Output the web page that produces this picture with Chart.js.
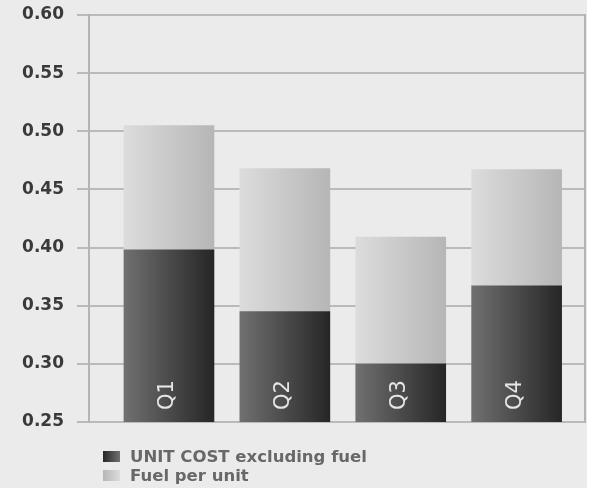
<!DOCTYPE html>
<html>
<head>
<meta charset="utf-8">
<script src="https://cdn.jsdelivr.net/npm/chart.js@4.4.1/dist/chart.umd.min.js"></script>
<style>
  html, body { margin: 0; padding: 0; background: #ffffff; }
  #wrap { width: 593px; height: 488px; }
</style>
</head>
<body>
<div id="wrap"><canvas id="c" width="593" height="488"></canvas></div>
<script>
// Quarterly unit cost, split into cost excluding fuel and fuel per unit
const quarters = ['Q1', 'Q2', 'Q3', 'Q4'];
const unitCostExFuel = [0.398, 0.345, 0.300, 0.367];
const fuelPerUnit = [0.107, 0.123, 0.109, 0.100];
const yTickValues = [0.25, 0.30, 0.35, 0.40, 0.45, 0.50, 0.55, 0.60];
const seriesNames = ['UNIT COST excluding fuel', 'Fuel per unit'];

const BAR_W = 90;
const darkStops = ['#707070', '#262626'];
const lightStops = ['#dcdcdc', '#b6b6b6'];

function barGradient(stops) {
  return function (ctx) {
    const chart = ctx.chart;
    const xs = chart.scales && chart.scales.x;
    if (!xs || ctx.type !== 'data') return stops[1];
    const cx = xs.getPixelForValue(ctx.dataIndex);
    if (!Number.isFinite(cx)) return stops[1];
    const g = chart.ctx.createLinearGradient(cx - BAR_W / 2, 0, cx + BAR_W / 2, 0);
    g.addColorStop(0, stops[0]);
    g.addColorStop(1, stops[1]);
    return g;
  };
}

const toPoints = arr => arr.map((v, i) => ({ x: i, y: v }));

// Page background, right frame line, legend and in-bar quarter labels
const decorations = {
  id: 'decorations',
  beforeDraw(chart) {
    const c = chart.ctx;
    c.save();
    c.fillStyle = '#ebebeb';
    c.fillRect(0, 0, 587, chart.height);
    c.restore();
  },
  afterDatasetsDraw(chart) {
    const c = chart.ctx;
    const area = chart.chartArea;
    const xs = chart.scales.x;
    const ys = chart.scales.y;
    c.save();
    // right frame line
    c.strokeStyle = '#b4b4b4';
    c.lineWidth = 2;
    c.beginPath();
    c.moveTo(area.right, area.top - 1);
    c.lineTo(area.right, area.bottom + 1);
    c.stroke();

    // quarter names written upward inside the dark segments
    c.fillStyle = '#e6e6e6';
    c.font = '21px "DejaVu Sans"';
    c.textAlign = 'left';
    c.textBaseline = 'middle';
    quarters.forEach((q, i) => {
      const cx = xs.getPixelForValue(i);
      c.save();
      c.translate(cx - 1, ys.bottom - 12);
      c.rotate(-Math.PI / 2);
      c.fillText(q, 0, 0);
      c.restore();
    });

    // legend
    const rows = [456.5, 475.5];
    const stops = [darkStops, lightStops];
    c.font = 'bold 16.5px "DejaVu Sans"';
    c.textBaseline = 'middle';
    seriesNames.forEach((name, i) => {
      const y = rows[i];
      const g = c.createLinearGradient(103, 0, 120, 0);
      g.addColorStop(0, stops[i][1]);
      g.addColorStop(1, stops[i][0]);
      c.fillStyle = g;
      c.fillRect(103, y - 5.5, 17, 11);
      c.fillStyle = '#686868';
      c.fillText(name, 130, y + 1);
    });
    c.restore();
  }
};

new Chart(document.getElementById('c'), {
  type: 'bar',
  data: {
    labels: quarters,
    datasets: [
      {
        label: seriesNames[0],
        data: toPoints(unitCostExFuel),
        backgroundColor: barGradient(darkStops),
        barThickness: BAR_W,
        borderWidth: 0
      },
      {
        label: seriesNames[1],
        data: toPoints(fuelPerUnit),
        backgroundColor: barGradient(lightStops),
        barThickness: BAR_W,
        borderWidth: 0
      }
    ]
  },
  options: {
    responsive: false,
    animation: false,
    layout: { padding: { left: 0, right: 8, top: 15, bottom: 66 } },
    plugins: {
      legend: { display: false },
      tooltip: { enabled: false }
    },
    scales: {
      x: {
        type: 'linear',
        stacked: true,
        display: false,
        offset: false,
        min: -0.69,
        max: 3.59
      },
      y: {
        stacked: true,
        min: 0.25,
        max: 0.60,
        afterFit(scale) {
          scale.width = 89;
          scale.paddingTop = 0;
          scale.paddingBottom = 0;
        },
        afterBuildTicks(scale) {
          scale.ticks = yTickValues.map(v => ({ value: v }));
        },
        ticks: {
          padding: 13,
          color: '#3a3a3a',
          font: { family: '"DejaVu Sans"', size: 17, weight: 'bold' },
          callback: v => Number(v).toFixed(2)
        },
        grid: {
          color: '#bababa',
          lineWidth: 2,
          tickLength: 12,
          drawTicks: true
        },
        border: { display: true, color: '#b4b4b4', width: 2 }
      }
    }
  },
  plugins: [decorations]
});
</script>
</body>
</html>
